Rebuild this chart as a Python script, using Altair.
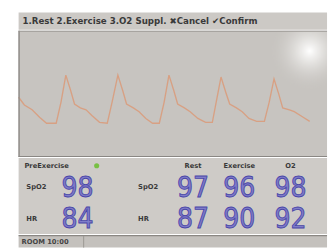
import altair as alt
import pandas as pd

# ---- data ----
toolbar_text = ["1.Rest 2.Exercise 3.O2 Suppl. \u2716Cancel \u2714Confirm"]
wave_t = [0, 6, 14, 22, 29, 39, 44, 49, 54, 58, 64, 70, 76, 84, 92, 97, 103, 108, 112, 119,
          125, 132, 139, 146, 151, 156, 161, 165, 172, 178, 186, 194, 201, 205, 210, 215, 219,
          226, 232, 239, 247, 255, 260, 265, 270, 274, 281, 286, 294, 302]
wave_amp = [62, 54, 49, 41, 35, 35, 57, 85, 69, 55, 51, 49, 43, 36, 35, 57, 85, 69, 55, 51,
            47, 40, 35, 35, 57, 85, 69, 55, 51, 47, 40, 36, 36, 57, 83, 67, 55,
            51, 47, 40, 37, 37, 57, 81, 65, 51, 49, 47, 42, 37]
modes = ["Now", "Rest", "Exercise", "O2"]
header_modes = ["Rest", "Exercise", "O2"]
metrics = ["SpO2", "HR"]
spo2_values = [98, 97, 96, 98]
hr_values = [84, 87, 90, 92]
pre_label = ["PreExercise"]
status_text = ["ROOM 10:00"]

W = 320
FONT = "DejaVu Sans"
DIGIT_FONT = "Liberation Sans Narrow, DejaVu Sans Condensed, sans-serif"
BLUE_FILL = "#7f7cc8"
BLUE_STROKE = "#4a46a8"
DARK = "#3a3a3a"

# layout (pixel positions inside the readings panel)
COL_X = {"Now": 61, "Rest": 181, "Exercise": 229, "O2": 282}
ROW_Y = {"hdr": 8, "SpO2": 30, "HR": 63}

# ---- toolbar ----
toolbar = alt.Chart(pd.DataFrame({"t": toolbar_text})).mark_text(
    align="left", baseline="middle", font=FONT, fontSize=9, fontWeight="bold", color=DARK
).encode(x=alt.value(4), y=alt.value(9), text="t:N").properties(
    width=W, height=18, view=alt.ViewBackground(fill="#ccc9c5", stroke=None)
)

# ---- waveform ----
wave_df = pd.DataFrame({"t": wave_t, "amp": wave_amp})
xs = alt.Scale(domain=[0, W], nice=False, zero=False)
ys = alt.Scale(domain=[0, 131], nice=False, zero=False)
glare = alt.Chart(pd.DataFrame({"t": [302], "amp": [110]})).mark_circle(
    size=7000, opacity=1, clip=True,
    fill=alt.RadialGradient(
        gradient="radial",
        stops=[alt.GradientStop(offset=0, color="rgba(255,255,255,1)"),
               alt.GradientStop(offset=0.3, color="rgba(238,237,235,0.75)"),
               alt.GradientStop(offset=1, color="rgba(199,196,192,0)")]),
).encode(x=alt.X("t:Q", scale=xs, axis=None), y=alt.Y("amp:Q", scale=ys, axis=None))
edge = alt.Chart(pd.DataFrame({"t": [0]})).mark_rule(color="#8f8c88", strokeWidth=1.5).encode(
    x=alt.value(0.5), y=alt.value(0), y2=alt.value(131))
top_line = alt.Chart(pd.DataFrame({"t": [0]})).mark_rule(color="#9a9793", strokeWidth=1).encode(
    x=alt.value(0), x2=alt.value(W), y=alt.value(0.5))
bottom_line = alt.Chart(pd.DataFrame({"t": [0]})).mark_rule(color="#8a8783", strokeWidth=1.2).encode(
    x=alt.value(0), x2=alt.value(W), y=alt.value(130.5))
line = alt.Chart(wave_df).mark_line(color="#d99c7c", strokeWidth=1.4, opacity=0.9).encode(
    x=alt.X("t:Q", scale=xs, axis=None), y=alt.Y("amp:Q", scale=ys, axis=None))
wave = alt.layer(glare, line, edge, top_line, bottom_line).properties(
    width=W, height=131, view=alt.ViewBackground(fill="#c7c4c0", stroke=None)
)

# ---- readings ----
small = dict(baseline="middle", font=FONT, fontSize=7, fontWeight="bold", color=DARK)
layers = []
for m in header_modes:
    layers.append(alt.Chart(pd.DataFrame({"t": [m]})).mark_text(align="center", **small).encode(
        x=alt.value(COL_X[m]), y=alt.value(ROW_Y["hdr"]), text="t:N"))
layers.append(alt.Chart(pd.DataFrame({"t": pre_label})).mark_text(align="left", **small).encode(
    x=alt.value(6), y=alt.value(ROW_Y["hdr"]), text="t:N"))
layers.append(alt.Chart(pd.DataFrame({"t": pre_label})).mark_circle(
    size=28, color="#78c043", opacity=1).encode(x=alt.value(81), y=alt.value(ROW_Y["hdr"])))
for mt in metrics:
    for lx in (8, 124):
        layers.append(alt.Chart(pd.DataFrame({"t": [mt]})).mark_text(align="left", **small).encode(
            x=alt.value(lx), y=alt.value(ROW_Y[mt]), text="t:N"))
for mt, series in zip(metrics, [spo2_values, hr_values]):
    for m, v in zip(modes, series):
        layers.append(alt.Chart(pd.DataFrame({"v": [v]})).mark_text(
            align="center", baseline="middle", font=DIGIT_FONT, fontSize=29,
            fontWeight="normal", fill=BLUE_FILL, stroke=BLUE_STROKE, strokeWidth=0.9
        ).encode(x=alt.value(COL_X[m]), y=alt.value(ROW_Y[mt] + 1), text="v:Q"))
readings = alt.layer(*layers).properties(
    width=W, height=79, view=alt.ViewBackground(fill="#cecbc7", stroke=None)
)

# ---- status bar ----
status_line = alt.Chart(pd.DataFrame({"t": [0]})).mark_rule(color="#8a8783", strokeWidth=1.2).encode(
    x=alt.value(0), x2=alt.value(W), y=alt.value(0.5))
status_sep = alt.Chart(pd.DataFrame({"t": [0]})).mark_rule(color="#9a9793", strokeWidth=1).encode(
    x=alt.value(67.5), y=alt.value(1), y2=alt.value(13))
status_txt = alt.Chart(pd.DataFrame({"t": status_text})).mark_text(
    align="left", baseline="middle", font=FONT, fontSize=7, fontWeight="bold", color="#444444"
).encode(x=alt.value(3), y=alt.value(7), text="t:N")
status = alt.layer(status_line, status_sep, status_txt).properties(
    width=W, height=13, view=alt.ViewBackground(fill="#c4c1bd", stroke=None)
)

chart = alt.vconcat(toolbar, wave, readings, status, spacing=0).properties(
    padding={"left": 8, "top": 0, "right": 0, "bottom": 0},
    background="white",
).configure_view(stroke=None)

chart.save("out.html", embed_options={"renderer": "svg", "actions": False})
